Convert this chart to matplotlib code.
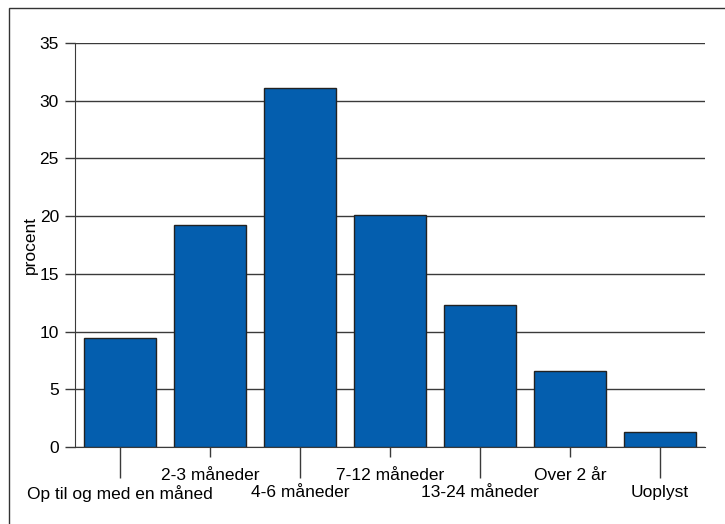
import matplotlib
matplotlib.use("Agg")
import matplotlib.pyplot as plt
from matplotlib.patches import Rectangle
import numpy as np

plt.rcParams["font.family"] = ["Liberation Sans", "DejaVu Sans"]

CATEGORIES = ["Op til og med en måned", "2-3 måneder", "4-6 måneder",
              "7-12 måneder", "13-24 måneder", "Over 2 år", "Uoplyst"]
VALUES = [9.4, 19.2, 31.1, 20.1, 12.3, 6.6, 1.3]
Y_TICKS = [0, 5, 10, 15, 20, 25, 30, 35]

BAR_COLOR = "#045EAE"
LINE_COLOR = "#3a3a3a"
PX = 72 / 100  # points per pixel at dpi 100
FS = 12.5

fig = plt.figure(figsize=(7.25, 5.24), dpi=100)
ax = fig.add_axes([75 / 725, 1 - 447 / 524, 630 / 725, 404 / 524])

x = np.arange(len(CATEGORIES))
ax.bar(x, VALUES, width=0.81, color=BAR_COLOR, edgecolor="#222222",
       linewidth=1.0, zorder=3)

ax.set_xlim(-0.5, len(CATEGORIES) - 0.5)
ax.set_ylim(0, 35)
ax.set_yticks(Y_TICKS)
ax.grid(axis="y", color=LINE_COLOR, linewidth=1.0, zorder=0)
ax.set_ylabel("procent", fontsize=FS, labelpad=1)

for side in ("top", "right"):
    ax.spines[side].set_visible(False)
ax.spines["left"].set_color(LINE_COLOR)
ax.spines["bottom"].set_color(LINE_COLOR)

# staggered category labels: long ticks for even, short ticks for odd
even = x[::2]
odd = x[1::2]
ax.set_xticks(even, [CATEGORIES[i] for i in even])
ax.set_xticks(odd, [CATEGORIES[i] for i in odd], minor=True)
ax.tick_params(axis="x", which="major", length=31 * PX, width=1,
               color=LINE_COLOR, pad=7 * PX, labelsize=FS)
ax.tick_params(axis="x", which="minor", length=10 * PX, width=1,
               color=LINE_COLOR, pad=11 * PX, labelsize=FS)
ax.tick_params(axis="y", length=10 * PX, width=1, color=LINE_COLOR,
               pad=6 * PX, labelsize=FS)

# outer frame
fig.add_artist(Rectangle((9 / 725, -0.2), 1.5, 1.2 - 8 / 524,
                         transform=fig.transFigure, fill=False,
                         edgecolor="#333333", linewidth=1.0))

fig.savefig("out.png", dpi=100)
